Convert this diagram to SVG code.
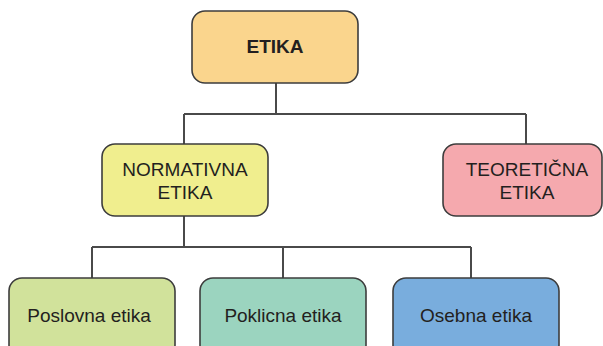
<svg xmlns="http://www.w3.org/2000/svg" width="603" height="346" viewBox="0 0 603 346">
<style>
.box{stroke:#3d3d3d;stroke-width:1.6}
.lbl{font-family:"Liberation Sans",Arial,sans-serif;font-size:19px;fill:#231f20;text-anchor:middle}
.conn{fill:none;stroke:#4a4a4a;stroke-width:2}
</style>
<rect width="603" height="346" fill="#ffffff"/>
<g id="connectors">
<path class="conn" d="M276 83 V114 M184 114 H526 M184 114 V144 M526 114 V144"/>
<path class="conn" d="M184 216 V247 M92 247 H471 M92 247 V278 M283 247 V278 M471 247 V278"/>
</g>
<g id="etika">
<rect class="box" x="192" y="11" width="166" height="72" rx="13" fill="#fad58d"/>
<text class="lbl" x="275" y="53" font-weight="bold" font-size="18">ETIKA</text>
</g>
<g id="normativna">
<rect class="box" x="102" y="144" width="166" height="72" rx="13" fill="#f0ee8e"/>
<text class="lbl" x="185" y="176">NORMATIVNA</text>
<text class="lbl" x="185" y="199">ETIKA</text>
</g>
<g id="teoreticna">
<rect class="box" x="443" y="144" width="159" height="72" rx="13" fill="#f5a9ae"/>
<text class="lbl" x="527" y="176">TEORETIČNA</text>
<text class="lbl" x="527" y="199">ETIKA</text>
</g>
<g id="poslovna">
<rect class="box" x="9" y="278" width="166" height="80" rx="13" fill="#d1e29b"/>
<text class="lbl" x="89" y="322">Poslovna etika</text>
</g>
<g id="poklicna">
<rect class="box" x="200" y="278" width="166" height="80" rx="13" fill="#9bd4bf"/>
<text class="lbl" x="283" y="322">Poklicna etika</text>
</g>
<g id="osebna">
<rect class="box" x="393" y="278" width="166" height="80" rx="13" fill="#79addd"/>
<text class="lbl" x="476" y="322">Osebna etika</text>
</g>
</svg>
